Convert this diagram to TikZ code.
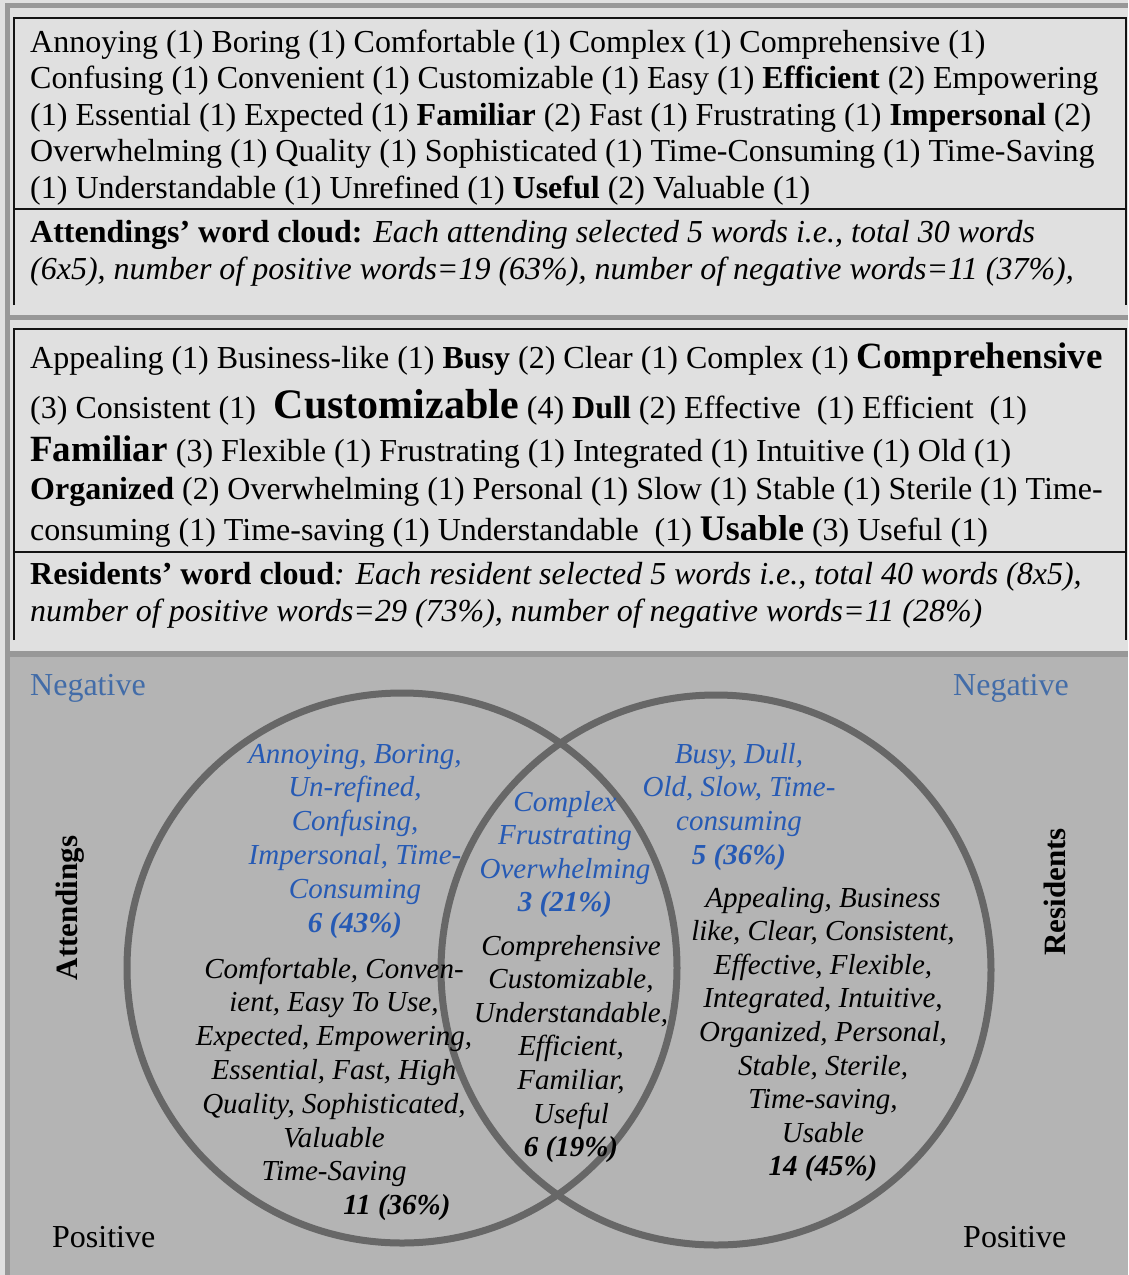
\documentclass[tikz,border=0pt]{standalone}
\usepackage{fontspec}
\setmainfont{Liberation Serif}
\definecolor{panelbg}{HTML}{E0E0E0}
\definecolor{vennbg}{HTML}{B4B4B4}
\definecolor{stripgray}{HTML}{989898}
\definecolor{ringgray}{HTML}{676767}
\definecolor{labelblue}{RGB}{66,108,168}
\definecolor{negblue}{RGB}{38,90,180}
\newcommand\wsz[2]{{\fontsize{#1}{#1}\selectfont\bfseries #2}}
\tikzset{
  wordline/.style={anchor=base west, inner sep=0pt, font=\fontsize{32}{36}\selectfont},
  boxline/.style={draw=black!92, line width=1.6pt},
  strip/.style={fill=stripgray, draw=none},
  sidelabel/.style={anchor=base west, inner sep=0pt, font=\fontsize{32}{36}\selectfont},
  grouplabel/.style={rotate=90, inner sep=0pt, font=\fontsize{31}{36}\selectfont\bfseries},
  vennblue/.style={anchor=base, inner sep=0pt, text=negblue, font=\fontsize{29}{33}\selectfont\itshape},
  vennblack/.style={anchor=base, inner sep=0pt, text=black, font=\fontsize{29}{33}\selectfont\itshape},
  ring/.style={circle, draw=ringgray, line width=7pt, minimum size=550pt, inner sep=0pt}
}
\begin{document}
\begin{tikzpicture}[x=1pt, y=-1pt]
\useasboundingbox (0,0) rectangle (1128,1275);
% backgrounds and frame strips
\fill[panelbg] (0,0) rectangle (1128,1275);
\fill[vennbg] (10,657) rectangle (1128,1275);
\fill[strip] (5,3) rectangle (1128,8);
\fill[strip] (5,3) rectangle (10,1275);
\fill[strip] (10,315) rectangle (1128,320);
\fill[strip] (10,651) rectangle (1128,657);

% attendings' word box and caption box
\draw[boxline] (14,18) rectangle (1126,209);
\draw[boxline] (14,305) -- (14,209) -- (1126,209) -- (1126,305);
\node[wordline] (a1) at (30,52) {Annoying (1) Boring (1) Comfortable (1) Complex (1) Comprehensive (1)};
\node[wordline] (a2) at (30,88.5) {Confusing (1) Convenient (1) Customizable (1) Easy (1) \textbf{Efficient} (2) Empowering};
\node[wordline] (a3) at (30,125) {(1) Essential (1) Expected (1) \textbf{Familiar} (2) Fast (1) Frustrating (1) \textbf{Impersonal} (2)};
\node[wordline] (a4) at (30,161.5) {Overwhelming (1) Quality (1) Sophisticated (1) Time-Consuming (1) Time-Saving};
\node[wordline] (a5) at (30,198) {(1) Understandable (1) Unrefined (1) \textbf{Useful} (2) Valuable (1)};
\node[wordline] (ac1) at (30,242) {\textbf{Attendings’ word cloud:} \textit{Each attending selected 5 words i.e., total 30 words}};
\node[wordline] (ac2) at (30,279) {\textit{(6x5), number of positive words=19 (63\%), number of negative words=11 (37\%),}};

% residents' word box and caption box
\draw[boxline] (14,329) rectangle (1126,552);
\draw[boxline] (14,640) -- (14,552) -- (1126,552) -- (1126,640);
\node[wordline] (r1) at (30,368) {Appealing (1) Business-like (1) \textbf{Busy} (2) Clear (1) Complex (1) \wsz{37}{Comprehensive}};
\node[wordline] (r2) at (30,418) {(3) Consistent (1)\hspace{10pt} \wsz{42}{Customizable} (4) \textbf{Dull} (2) Effective\ \ (1) Efficient\ \ (1)};
\node[wordline] (r3) at (30,461) {\wsz{37}{Familiar} (3) Flexible (1) Frustrating (1) Integrated (1) Intuitive (1) Old (1)};
\node[wordline] (r4) at (30,499) {\textbf{Organized} (2) Overwhelming (1) Personal (1) Slow (1) Stable (1) Sterile (1) Time-};
\node[wordline] (r5) at (30,540) {consuming (1) Time-saving (1) Understandable\ \ (1) \wsz{36}{Usable} (3) Useful (1)};
\node[wordline] (rc1) at (30,584) {\textbf{Residents’ word cloud}\textit{: Each resident selected 5 words i.e., total 40 words (8x5),}};
\node[wordline] (rc2) at (30,621) {\textit{number of positive words=29 (73\%), number of negative words=11 (28\%)}};

% venn diagram
\node[ring] (att) at (402,968) {};
\node[ring] (res) at (716,970) {};

\node[sidelabel, text=labelblue] (negL) at (30,695) {Negative};
\node[sidelabel, text=labelblue] (negR) at (953,695) {Negative};
\node[sidelabel] (posL) at (52,1247) {Positive};
\node[sidelabel] (posR) at (963,1247) {Positive};
\node[grouplabel] (attlab) at (70,908) {Attendings};
\node[grouplabel] (reslab) at (1055,892) {Residents};

% negative words
\foreach [count=\i] \t in {{Annoying, Boring,},{Un-refined,},{Confusing,},{Impersonal, Time-},{Consuming},{\textbf{6 (43\%)}}}
  \node[vennblue] (nl\i) at (355,{763+33.8*(\i-1)}) {\t};
\foreach [count=\i] \t in {{Complex},{Frustrating},{Overwhelming},{\textbf{3 (21\%)}}}
  \node[vennblue] (nm\i) at (565,{811+33.6*(\i-1)}) {\t};
\foreach [count=\i] \t in {{Busy, Dull,},{Old, Slow, Time-},{consuming},{\textbf{5 (36\%)}}}
  \node[vennblue] (nr\i) at (739,{763+33.7*(\i-1)}) {\t};

% positive words
\foreach [count=\i] \t in {{Comfortable, Conven-},{ient, Easy To Use,},{Expected, Empowering,},{Essential, Fast, High},{Quality, Sophisticated,},{Valuable},{Time-Saving}}
  \node[vennblack] (pl\i) at (334,{978+33.8*(\i-1)}) {\t};
\node[vennblack] (pl8) at (397,1214) {\textbf{11 (36\%)}};
\foreach [count=\i] \t in {{Comprehensive},{Customizable,},{Understandable,},{Efficient,},{Familiar,},{Useful},{\textbf{6 (19\%)}}}
  \node[vennblack] (pm\i) at (571,{955+33.6*(\i-1)}) {\t};
\foreach [count=\i] \t in {{Appealing, Business},{like, Clear, Consistent,},{Effective, Flexible,},{Integrated, Intuitive,},{Organized, Personal,},{Stable, Sterile,},{Time-saving,},{Usable},{\textbf{14 (45\%)}}}
  \node[vennblack] (pr\i) at (823,{907+33.6*(\i-1)}) {\t};
\end{tikzpicture}
\end{document}
